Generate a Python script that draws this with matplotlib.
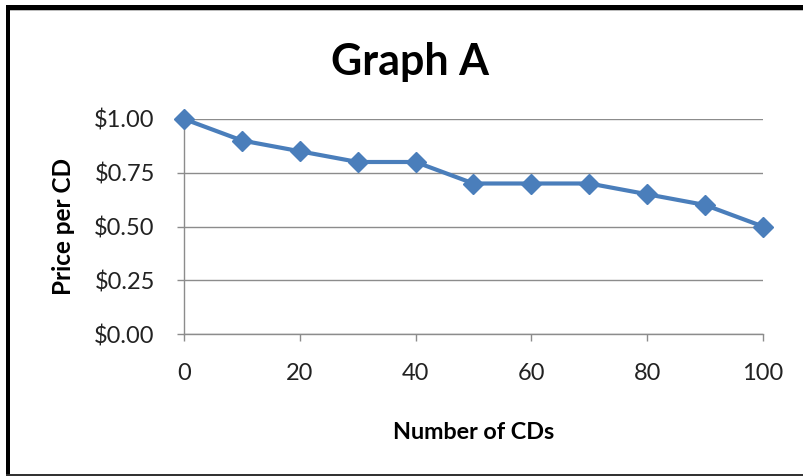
import matplotlib
matplotlib.use("Agg")
import matplotlib.pyplot as plt
from matplotlib.patches import Rectangle

plt.rcParams['font.family'] = ['Lato', 'DejaVu Sans']

num_cds = [0, 10, 20, 30, 40, 50, 60, 70, 80, 90, 100]
price = [1.00, 0.90, 0.85, 0.80, 0.80, 0.70, 0.70, 0.70, 0.65, 0.60, 0.50]
x_ticks = [0, 20, 40, 60, 80, 100]
y_ticks = [0.0, 0.25, 0.50, 0.75, 1.00]
y_tick_labels = ['$0.00', '$0.25', '$0.50', '$0.75', '$1.00']

W, H = 804, 476
fig = plt.figure(figsize=(W / 100, H / 100), dpi=100)
fig.patch.set_facecolor('white')

ax = fig.add_axes([184 / W, 1 - 334 / H, (763 - 184) / W, (334 - 119) / H])
grid_c = '#8c8c8c'
ax.plot(num_cds, price, color='#4a7ebb', lw=3.0, marker='D', markersize=10,
        markerfacecolor='#4a7ebb', markeredgecolor='#4a7ebb', clip_on=False, zorder=3)

ax.set_xlim(0, 100)
ax.set_ylim(0, 1.0)
ax.set_xticks(x_ticks)
ax.set_xticklabels([str(v) for v in x_ticks])
ax.set_yticks(y_ticks)
ax.set_yticklabels(y_tick_labels)
ax.yaxis.grid(True, color=grid_c, lw=1.0)
ax.set_axisbelow(True)
for s in ['top', 'right']:
    ax.spines[s].set_visible(False)
for s in ['left', 'bottom']:
    ax.spines[s].set_color(grid_c)
    ax.spines[s].set_linewidth(1.0)
ax.tick_params(axis='both', direction='out', length=5, width=1.0, color=grid_c,
               labelsize=17, labelcolor='#222222')
ax.tick_params(axis='y', pad=16)
ax.tick_params(axis='x', pad=16)

ax.set_xlabel('Number of CDs', fontsize=16.8, fontweight='bold', labelpad=27)
ax.set_ylabel('Price per CD', fontsize=17.5, fontweight='bold', labelpad=14)

fig.text(410 / W, 1 - 62 / H, 'Graph A', fontsize=31, fontweight='bold',
         ha='center', va='center')

# chart frame
fig.add_artist(Rectangle((7 / W, 1 - 11 / H), (W - 7) / W, 2 / H, transform=fig.transFigure,
                         facecolor='#bbbbbb', edgecolor='none'))
fig.add_artist(Rectangle((6 / W, 1 - 10 / H), (W - 6) / W, 5 / H, transform=fig.transFigure,
                         facecolor='black', edgecolor='none'))
fig.add_artist(Rectangle((6 / W, 0), 4 / W, 1 - 5 / H, transform=fig.transFigure,
                         facecolor='black', edgecolor='none'))
fig.add_artist(Rectangle((6 / W, 0), (W - 6) / W, 2 / H, transform=fig.transFigure,
                         facecolor='#333333', edgecolor='none'))

fig.savefig('out.png', dpi=100)
